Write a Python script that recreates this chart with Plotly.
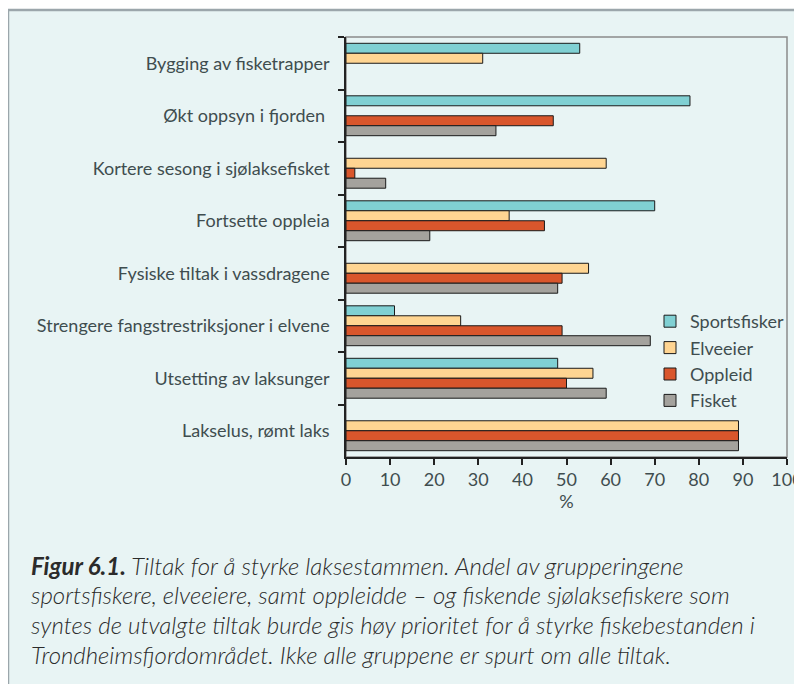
import plotly.graph_objects as go

categories = [
    "Bygging av fisketrapper",
    "Økt oppsyn i fjorden ",
    "Kortere sesong i sjølaksefisket",
    "Fortsette oppleia",
    "Fysiske tiltak i vassdragene",
    "Strengere fangstrestriksjoner i elvene",
    "Utsetting av laksunger",
    "Lakselus, rømt laks",
]
sportsfisker = [53, 78, None, 70, None, 11, 48, None]
elveeier = [31, None, 59, 37, 55, 26, 56, 89]
oppleid = [None, 47, 2, 45, 49, 49, 50, 89]
fisket = [None, 34, 9, 19, 48, 69, 59, 89]
series_names = ["Sportsfisker", "Elveeier", "Oppleid", "Fisket"]
x_ticks = [0, 10, 20, 30, 40, 50, 60, 70, 80, 90, 100]

caption_lines = [
    "<b>Figur 6.1.</b> Tiltak for å styrke laksestammen. Andel av grupperingene",
    "sportsfiskere, elveeiere, samt oppleidde – og fiskende sjølaksefiskere som",
    "syntes de utvalgte tiltak burde gis høy prioritet for å styrke fiskebestanden i",
    "Trondheimsfjordområdet. Ikke alle gruppene er spurt om alle tiltak.",
]

colors = ["#80D0D3", "#FFD592", "#D9562C", "#A4A29D"]
series = [sportsfisker, elveeier, oppleid, fisket]

FONT = "Lato"
TXT = "#3f4d4f"

fig = go.Figure()
for name, vals, col in zip(series_names, series, colors):
    fig.add_trace(go.Bar(
        y=categories, x=vals, name=name, orientation="h",
        marker=dict(color=col, line=dict(color="#1a1a1a", width=1)),
    ))

# page has an 8px body margin; plot area on screen: x 346-787, y 37-457
OFF = 8
PW, PH = 787 - 346, 457 - 37
L, T = 346 - OFF, 37 - OFF
R = 802 - (787 - OFF)
B = 684 - (457 - OFF)

def px(x):
    return (x - 346) / PW

def py(y):
    return (457 - y) / PH

shapes = [
    # outer panel
    dict(type="rect", xref="paper", yref="paper", x0=px(8), x1=px(840), y0=py(720), y1=py(10),
         fillcolor="#E8F4F4", line=dict(color="#9BA6AB", width=2.5), layer="below"),
    # plot frame
    dict(type="rect", xref="paper", yref="paper", x0=0, x1=1, y0=0, y1=1,
         fillcolor="rgba(0,0,0,0)", line=dict(color="#8a8a8a", width=1.5), layer="below"),
]

annotations = []
for i, line in enumerate(caption_lines):
    annotations.append(dict(
        xref="paper", yref="paper", x=px(29), y=py(565 + 29.7 * i),
        xanchor="left", yanchor="middle", showarrow=False, align="left",
        text="<i>" + line + "</i>",
        font=dict(family=FONT, size=24, color="#2b2b2b", weight=300),
    ))

fig.update_layout(
    width=802, height=684,
    margin=dict(l=L, r=R, t=T, b=B, autoexpand=False),
    paper_bgcolor="white",
    plot_bgcolor="#EFECE4",
    barmode="group",
    bargap=0.24,
    bargroupgap=0,
    shapes=shapes,
    annotations=annotations,
    font=dict(family=FONT, color=TXT, size=17),
    legend=dict(
        x=px(650), y=py(303), xanchor="left", yanchor="top",
        traceorder="normal", bgcolor="rgba(0,0,0,0)",
        font=dict(family=FONT, size=18, color=TXT),
        itemwidth=30, tracegroupgap=0,
    ),
    xaxis=dict(
        range=[0, 100], tickvals=x_ticks, ticktext=[str(v) for v in x_ticks],
        showgrid=False, zeroline=False, automargin=False,
        showline=True, linecolor="#222", linewidth=1.5,
        ticks="outside", ticklen=6, tickcolor="#222", tickwidth=1.5,
        tickfont=dict(family=FONT, size=18, color=TXT),
        title=dict(text="%", font=dict(family=FONT, size=18, color=TXT), standoff=4),
    ),
    yaxis=dict(
        autorange="reversed", type="category",
        showgrid=False, zeroline=False, automargin=False,
        showline=True, linecolor="#222", linewidth=1.5,
        ticks="outside", ticklen=6, tickcolor="#222", tickwidth=1.5,
        tickson="boundaries", ticklabelstandoff=11,
        tickfont=dict(family=FONT, size=18, color=TXT),
    ),
)

fig.write_html("out.html")
